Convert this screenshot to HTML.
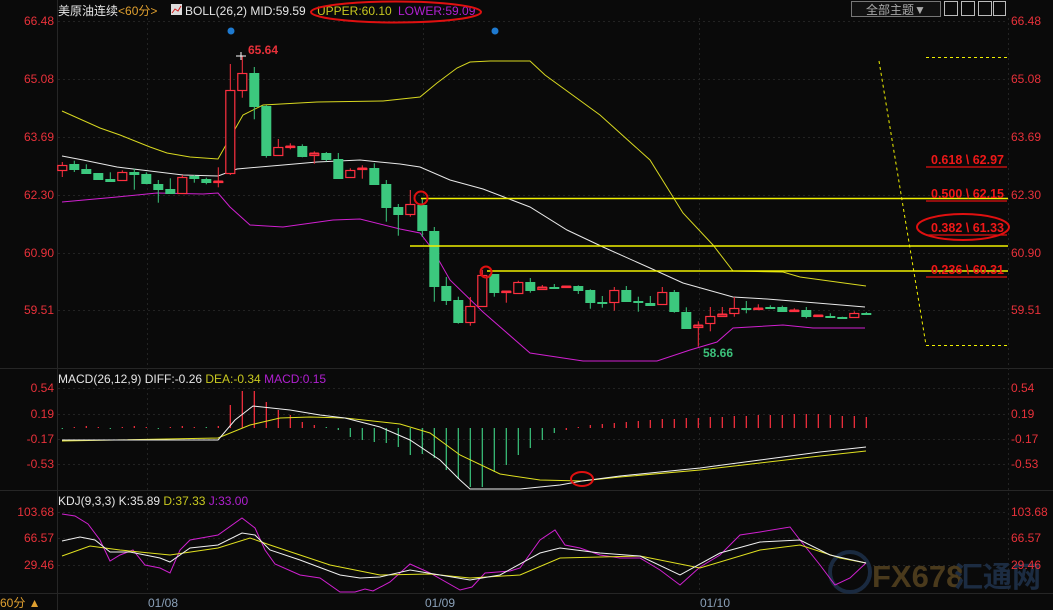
<!DOCTYPE html>
<html><head><meta charset="utf-8"><style>
html,body{margin:0;padding:0;background:#0a0a0a;width:1053px;height:610px;overflow:hidden}
svg{display:block}
text{font-family:"Liberation Sans","Noto Sans CJK SC",sans-serif}
</style></head><body>
<svg id="s" width="1053" height="610" viewBox="0 0 1053 610" xmlns="http://www.w3.org/2000/svg">
<rect width="1053" height="610" fill="#0a0a0a"/>
<g stroke="#262626" stroke-width="1">
<line x1="57.5" y1="0" x2="57.5" y2="610"/>
<line x1="0" y1="368.5" x2="1053" y2="368.5"/>
<line x1="0" y1="490.5" x2="1053" y2="490.5"/>
<line x1="0" y1="593.5" x2="1053" y2="593.5"/>
</g>
<g stroke="#232323" stroke-dasharray="2,3" stroke-width="1">
<line x1="1008.5" y1="18" x2="1008.5" y2="593"/>
<line x1="58" y1="21.5" x2="1008" y2="21.5"/><line x1="58" y1="79.5" x2="1008" y2="79.5"/>
<line x1="58" y1="137.5" x2="1008" y2="137.5"/><line x1="58" y1="195.5" x2="1008" y2="195.5"/>
<line x1="58" y1="253.5" x2="1008" y2="253.5"/><line x1="58" y1="310.5" x2="1008" y2="310.5"/>
<line x1="58" y1="388.5" x2="1008" y2="388.5"/><line x1="58" y1="414.5" x2="1008" y2="414.5"/>
<line x1="58" y1="439.5" x2="1008" y2="439.5"/><line x1="58" y1="464.5" x2="1008" y2="464.5"/>
<line x1="58" y1="512.5" x2="1008" y2="512.5"/><line x1="58" y1="538.5" x2="1008" y2="538.5"/>
<line x1="58" y1="565.5" x2="1008" y2="565.5"/>
<line x1="147.5" y1="18" x2="147.5" y2="593"/><line x1="423.5" y1="18" x2="423.5" y2="593"/><line x1="699.5" y1="18" x2="699.5" y2="593"/>
</g>
<!-- watermark -->
<circle cx="850" cy="572" r="20" fill="none" stroke="#1a2a40" stroke-width="4"/>
<text x="872" y="587" font-size="31" font-weight="bold" fill="#4a3a1c">FX678</text>
<text x="954" y="587" font-size="29" font-weight="bold" fill="#1c2c42">汇通网</text>
<g fill="#e8313a" font-size="12">
<g text-anchor="end">
<text x="54" y="25">66.48</text><text x="54" y="83">65.08</text><text x="54" y="141">63.69</text>
<text x="54" y="199">62.30</text><text x="54" y="257">60.90</text><text x="54" y="314">59.51</text>
<text x="54" y="392">0.54</text><text x="54" y="418">0.19</text><text x="54" y="443">-0.17</text><text x="54" y="468">-0.53</text>
<text x="54" y="516">103.68</text><text x="54" y="542">66.57</text><text x="54" y="569">29.46</text>
</g>
<text x="1011" y="25">66.48</text><text x="1011" y="83">65.08</text><text x="1011" y="141">63.69</text>
<text x="1011" y="199">62.30</text><text x="1011" y="257">60.90</text><text x="1011" y="314">59.51</text>
<text x="1011" y="392">0.54</text><text x="1011" y="418">0.19</text><text x="1011" y="443">-0.17</text><text x="1011" y="468">-0.53</text>
<text x="1011" y="516">103.68</text><text x="1011" y="542">66.57</text><text x="1011" y="569">29.46</text>
</g>
<g id="dyn"></g>
<text x="58" y="15" font-size="12" fill="#e6e6e6">美原油连续<tspan fill="#e0a030">&lt;60分&gt;</tspan></text>
<rect x="171" y="4" width="11" height="11" fill="#ddd"/><polyline points="172,13 175,9 178,11 181,6" fill="none" stroke="#d02020" stroke-width="1"/>
<text x="185" y="15" font-size="12" fill="#e6e6e6">BOLL(26,2) MID:59.59</text>
<text x="317" y="15" font-size="12" fill="#c8c820">UPPER:60.10</text>
<text x="398" y="15" font-size="12" fill="#b020d0">LOWER:59.09</text>
<ellipse cx="396" cy="12" rx="85" ry="10.5" fill="none" stroke="#e01010" stroke-width="2"/>
<text x="58" y="383" font-size="12" fill="#e6e6e6">MACD(26,12,9) DIFF:-0.26 <tspan fill="#c8c820">DEA:-0.34</tspan> <tspan fill="#b020d0">MACD:0.15</tspan></text>
<text x="58" y="505" font-size="12" fill="#e6e6e6">KDJ(9,3,3) K:35.89 <tspan fill="#c8c820">D:37.33</tspan> <tspan fill="#b020d0">J:33.00</tspan></text>
<g fill="#8aa0b8" font-size="12"><text x="148" y="607">01/08</text><text x="425" y="607">01/09</text><text x="700" y="607">01/10</text></g>
<text x="0" y="607" font-size="12" fill="#e0a030">60分 ▲</text>
<rect x="851.5" y="1.5" width="89" height="15" fill="#111" stroke="#777"/>
<text x="866" y="14" font-size="12" fill="#aaa">全部主题▼</text>
<g fill="none" stroke="#bbb"><rect x="944.5" y="1.5" width="13" height="14"/><rect x="961.5" y="1.5" width="13" height="14"/><rect x="978.5" y="1.5" width="13" height="14"/><rect x="993.5" y="1.5" width="12" height="14"/></g>
<circle cx="231" cy="31" r="3.5" fill="#1e7ad0"/><circle cx="495" cy="31" r="3.5" fill="#1e7ad0"/>
<text x="248" y="54" font-size="12" font-weight="bold" fill="#e8313a">65.64</text>
<text x="703" y="357" font-size="12" font-weight="bold" fill="#3cc07a">58.66</text>
<g stroke="#f0f000" stroke-width="1.5">
<line x1="421" y1="198.5" x2="1008" y2="198.5"/><line x1="410" y1="246" x2="1008" y2="246"/><line x1="487" y1="271" x2="1008" y2="271"/>
</g>
<g stroke="#f0f000" stroke-width="1" stroke-dasharray="3,3" fill="none">
<line x1="926" y1="57.5" x2="1008" y2="57.5"/><line x1="926" y1="345.5" x2="1008" y2="345.5"/>
<line x1="879" y1="61" x2="926" y2="345"/>
</g>
<g stroke="#e01010" stroke-width="1.3">
<line x1="926" y1="167" x2="1007" y2="167"/><line x1="926" y1="201" x2="1007" y2="201"/><line x1="926" y1="235" x2="1007" y2="235"/><line x1="926" y1="277" x2="1007" y2="277"/>
</g>
<g fill="#f01818" font-size="12.5" font-weight="bold">
<text x="931" y="164">0.618 \ 62.97</text><text x="931" y="198">0.500 \ 62.15</text><text x="931" y="232">0.382 \ 61.33</text><text x="931" y="274">0.236 \ 60.31</text>
</g>
<g fill="none" stroke="#e01010" stroke-width="2">
<ellipse cx="963" cy="227" rx="46" ry="13"/>
<circle cx="421" cy="198" r="6.5"/><circle cx="486" cy="272" r="5.5"/>
<ellipse cx="582" cy="479" rx="11" ry="7"/>
</g>
</svg>
<script>
var g=document.getElementById('dyn'),h='';
function X(i){return 62.3+12*i}
var Z4=[[164.7,170.3,162,177,1],[164,168.7,160.7,172,0],[169,172.7,164.3,173.7,0],[173,178.7,173.3,179.7,0],[179,181,172.3,181.7,0],[172.3,180.3,170.3,180.3,1],[172.3,173.7,168.7,189.7,0],[174,182.7,172.3,184.3,0],[184,188.7,180,202.7,0],[189,193,178.3,193.3,0],[177,193,175,193.3,1],[176.3,178.3,175,182.7,0],[179,181.7,177.7,184.3,0],[180.7,181.7,167.3,187.3,1],[90.3,173.3,64,175,1],[73.3,90.3,56,97.7,1],[73,105.7,67,119.3,0],[105.7,154.7,105,157.7,0],[147.3,154.7,139,155.3,1],[146,146.7,143.3,149.3,1],[146.3,155.7,144.3,157.3,0],[153.3,155.3,151.3,163.7,1],[153,158.7,152,161.3,0],[159.3,177.7,153,177.7,0],[170.3,176.7,168.3,176.7,1],[167.7,168.7,165.3,178.7,1],[168,183.7,163.3,185,0],[184,206.7,180,221.7,0],[207,213.7,204,235.7,0],[204.3,214.3,190,216.7,1],[204.7,229.7,198,237,0],[231,285.7,227,301.7,0],[286,299.7,277,305,0],[300,321.7,296.7,323.7,0],[306.3,321.7,297,325.7,1],[275.3,305.7,270,306.7,1]];
var Z5=[[274,291.7,274,296.7,0],[291,291.7,290.7,302.7,1],[282.3,293.3,280.7,293.3,1],[282,289.7,278,292.7,0],[287,289.3,285,290,1],[286.7,287.7,284,288,0],[285.7,287.3,285.7,287.3,1],[286,289.7,285.3,294,0],[290,301.7,289.3,308.7,0],[302.3,303,296,307.7,0],[290,302.3,287,310.7,1],[290,300.7,286,300.7,0],[301.3,302.3,296.7,311.7,0],[303.3,304.7,296,304.7,0],[292.3,304.3,287,304.3,1],[292.3,311.3,290,312.7,0],[312.3,327.7,307.3,328.7,0],[325,327,321.3,346.7,1],[316.3,323.3,307,331.3,1],[314,315.7,307,316.7,1],[308.3,313.3,297,316.7,1],[307.7,308.3,301,313.3,0],[307.7,308.3,304.3,308.7,1],[306.7,308.3,305.3,308.7,0],[307,310.7,305.7,311.3,0],[310,310.7,308.3,311.7,1],[310.3,316.3,307,318.3,0],[315.3,316.3,315,316.7,1],[316,316.7,313.3,317.3,0],[316.7,317.3,316.7,317.3,0],[313.3,317.3,311.3,317.3,1],[313,313.7,312,313.7,0]];
var C=Z4.concat(Z5);
C.forEach(function(c,i){var x=X(i),col=c[4]?'#ff3040':'#3cc87e';
 var t=Math.round(c[0])+.5,b=Math.round(c[1])+.5;if(b-t<1)b=t+1;
 h+='<line x1="'+(x)+'" y1="'+c[2]+'" x2="'+x+'" y2="'+c[3]+'" stroke="'+col+'" stroke-width="1"/>';
 if(c[4]){h+='<rect x="'+(x-4.5)+'" y="'+t+'" width="9" height="'+(b-t)+'" fill="#0a0a0a" stroke="'+col+'" stroke-width="1.2"/>';
  if(b-t<2.5)h+='<line x1="'+(x-4.5)+'" y1="'+t+'" x2="'+(x+4.5)+'" y2="'+t+'" stroke="'+col+'" stroke-width="2"/>';}
 else h+='<rect x="'+(x-5)+'" y="'+(t-.5)+'" width="10" height="'+(b-t+1)+'" fill="'+col+'"/>';
});
function pl(p,c,w){return '<polyline points="'+p+'" fill="none" stroke="'+c+'" stroke-width="'+(w||1)+'"/>'}
h=pl('62,111 100,128 120,135 150,147 167,153 190,157 218,159 243,115 263,105 317,102 383,101 420,97 437,83 457,68 470,62 490,61 530,61 545,75 600,115 650,160 683,213 713,245 733,271 783,272 800,277 866,286','#d8d820')
 +pl('62,156 83,160 117,167 150,171 183,175 218,176 237,169 283,165 317,162 360,160 400,164 420,167 450,180 483,189 530,207 567,230 603,247 650,268 683,283 733,297 767,299 817,303 865,307','#e8e8e8')
 +pl('62,202 117,197 157,193 203,194 218,193 230,207 250,225 283,227 333,220 360,219 400,229 420,233 433,250 450,280 483,312 530,353 583,361 657,361 690,350 717,342 733,328 783,325 813,328 865,328','#d020d0')+h;
var M=[429,427,426,427,429,427,426,427,429,427,426,427,427,426,405,391,391,402,410,415,422,425,427,430,437,440,442,443,447,455,454,458,470,479,487,487,472,465,455,448,440,433,430,427,425,424,423,422,421,420,419,419,418,418,417,417,416,416,415,415,415,414,414,414,415,416,416,417];
M.forEach(function(v,i){var x=X(i),red=(i>=14&&i<=21)||i>=42||[1,2,3,5,6,7,9,10,11,13].indexOf(i)>=0;
 h+='<line x1="'+x+'" y1="428" x2="'+x+'" y2="'+v+'" stroke="'+(red?'#ff3040':'#3cc87e')+'" stroke-width="1.2"/>';});
h+=pl('62,441 218,438 250,425 280,418 310,417 345,418 400,424 430,433 460,455 500,474 540,480 582,481 620,477 700,470 760,463 820,456 866,451','#e0e020');
h+=pl('62,440 218,440 235,420 253,406 290,410 320,415 345,418 380,427 410,440 440,460 460,480 470,489 520,489 560,485 582,481 620,476 700,468 760,460 820,452 866,447','#f0f0f0');
h+=pl('62,514 75,516 88,524 100,540 110,561 120,555 133,550 145,565 160,568 170,573 180,550 190,540 218,535 242,518 255,528 265,550 275,564 300,575 320,578 340,592 355,592 365,589 373,591 390,582 410,564 430,573 460,590 472,587 485,573 510,571 520,568 540,540 555,530 565,545 580,548 600,555 620,558 640,558 660,570 680,585 700,567 720,555 740,535 760,532 790,527 800,540 820,565 835,585 850,578 866,563','#d020d0');
h+=pl('62,556 90,546 120,550 170,555 218,548 250,538 270,545 330,565 380,575 430,574 470,578 520,575 560,558 640,556 700,568 760,550 800,545 840,558 866,563','#e0e020');
h+=pl('62,541 80,537 95,540 110,552 130,552 160,558 170,562 190,548 218,545 242,533 255,535 270,550 300,560 340,575 360,578 380,577 410,570 440,575 470,580 500,575 540,553 560,548 600,553 640,556 680,575 720,553 760,542 800,540 830,555 866,563','#f0f0f0');
h+='<line x1="236" y1="56" x2="246" y2="56" stroke="#fff"/><line x1="241" y1="52" x2="241" y2="60" stroke="#fff"/>';
g.innerHTML=h;
</script>
</body></html>
